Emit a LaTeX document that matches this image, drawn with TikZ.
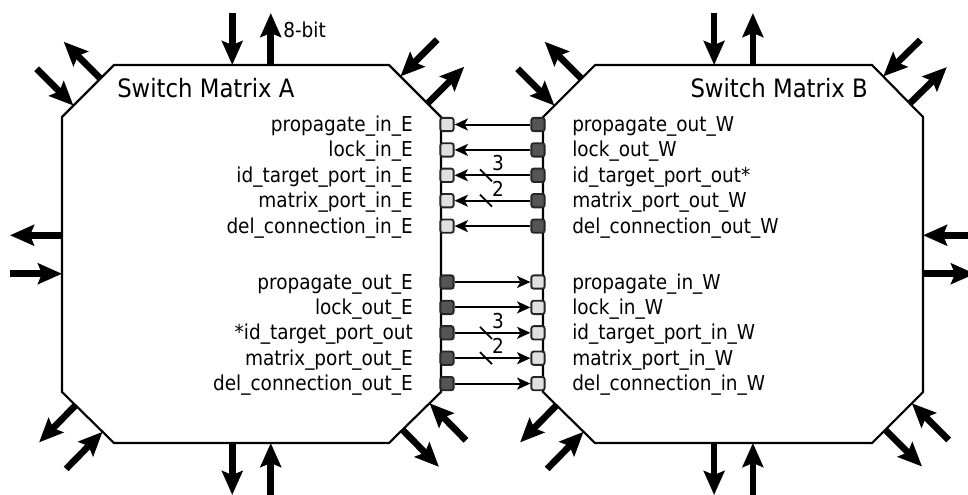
\documentclass[tikz,border=0pt]{standalone}
\usepackage{fontspec}
\setmainfont{DejaVu Sans Condensed}
\usetikzlibrary{arrows.meta,calc}

\definecolor{portlight}{HTML}{E0E0E0}
\definecolor{portdark}{HTML}{555555}

% one incoming and one outgoing arrow on a side running from #1 to #2 (clockwise)
\newcommand\sidepair[4]{%
  \coordinate (pin) at ($(#1)!#3!(#2)$);
  \coordinate (pout) at ($(#1)!#4!(#2)$);
  \draw[bigarrow] ($(pin)!39pt!90:(#2)$) -- (pin);
  \draw[bigarrow] (pout) -- ($(pout)!39pt!90:(#2)$);
}

\begin{document}
\begin{tikzpicture}[x=0.75pt,y=-0.75pt,
  matrixbox/.style={line width=1.6pt, line join=miter},
  bigarrow/.style={line width=5pt, -{Stealth[length=18pt,width=15.5pt,inset=3pt]}},
  port/.style={draw=black!85, line width=1.4pt, rounded corners=1.8pt,
               minimum size=10pt, inner sep=0pt},
  inport/.style={port, fill=portlight},
  outport/.style={port, fill=portdark},
  portlink/.style={line width=1.5pt, -{Stealth[length=10pt,width=9pt,inset=2.5pt]}},
  busmark/.style={line width=1.3pt},
  sig/.style={font=\fontsize{15.4}{18}\selectfont, inner sep=0pt},
  boxtitle/.style={font=\fontsize{19}{22}\selectfont, inner sep=0pt},
]
\useasboundingbox (0,0) rectangle (968,494);

% switch matrix A
\draw[matrixbox] (62,117) coordinate (A1) -- (114,65) coordinate (A2)
  -- (389,65) coordinate (A3) -- (441,117) coordinate (A4)
  -- (441,392) coordinate (A5) -- (389,443) coordinate (A6)
  -- (114,443) coordinate (A7) -- (62,392) coordinate (A8) -- cycle;
% switch matrix B
\draw[matrixbox] (543,117) coordinate (B1) -- (595,65) coordinate (B2)
  -- (872,65) coordinate (B3) -- (923,117) coordinate (B4)
  -- (923,392) coordinate (B5) -- (872,443) coordinate (B6)
  -- (595,443) coordinate (B7) -- (543,392) coordinate (B8) -- cycle;

\node[boxtitle, anchor=base west] (titleA) at (117,97) {Switch Matrix A};
\node[boxtitle, anchor=base east] (titleB) at (868,97) {Switch Matrix B};

% outer links of A
\sidepair{A8}{A1}{0.43}{0.57}
\sidepair{A1}{A2}{0.22}{0.74}
\sidepair{A2}{A3}{0.43}{0.57}
\sidepair{A3}{A4}{0.22}{0.74}
\sidepair{A5}{A6}{0.22}{0.74}
\sidepair{A6}{A7}{0.43}{0.57}
\sidepair{A7}{A8}{0.22}{0.74}
% outer links of B
\sidepair{B1}{B2}{0.22}{0.74}
\sidepair{B2}{B3}{0.43}{0.57}
\sidepair{B3}{B4}{0.22}{0.74}
\sidepair{B4}{B5}{0.43}{0.57}
\sidepair{B5}{B6}{0.22}{0.74}
\sidepair{B6}{B7}{0.43}{0.57}
\sidepair{B7}{B8}{0.22}{0.74}

\node[sig, anchor=base west] (width) at (283,37) {8-bit};

% B -> A signals
\foreach \i/\y/\la/\lb in {
  1/124.5/propagate\_in\_E/propagate\_out\_W,
  2/149.9/lock\_in\_E/lock\_out\_W,
  3/175.3/id\_target\_port\_in\_E/id\_target\_port\_out*,
  4/200.7/matrix\_port\_in\_E/matrix\_port\_out\_W,
  5/226.1/del\_connection\_in\_E/del\_connection\_out\_W} {
  \node[inport] (ai\i) at (447,\y) {};
  \node[outport] (bo\i) at (538,\y) {};
  \draw[portlink] (bo\i) -- (ai\i);
  \node[sig, anchor=base east] (lai\i) at (413,\y+7) {\la};
  \node[sig, anchor=base west] (lbo\i) at (572,\y+7) {\lb};
}
% A -> B signals
\foreach \i/\y/\la/\lb in {
  1/282/propagate\_out\_E/propagate\_in\_W,
  2/307.4/lock\_out\_E/lock\_in\_W,
  3/332.8/*id\_target\_port\_out/id\_target\_port\_in\_W,
  4/358.2/matrix\_port\_out\_E/matrix\_port\_in\_W,
  5/383.6/del\_connection\_out\_E/del\_connection\_in\_W} {
  \node[outport] (ao\i) at (447,\y) {};
  \node[inport] (bi\i) at (538,\y) {};
  \draw[portlink] (ao\i) -- (bi\i);
  \node[sig, anchor=base east] (lao\i) at (413,\y+7) {\la};
  \node[sig, anchor=base west] (lbi\i) at (572,\y+7) {\lb};
}

% bus width marks
\foreach \y/\w in {175.3/3, 200.7/2, 332.8/3, 358.2/2} {
  \draw[busmark] (480,\y-6) -- (492,\y+6);
  \node[sig] at (498,\y-12) {\w};
}
\end{tikzpicture}
\end{document}
